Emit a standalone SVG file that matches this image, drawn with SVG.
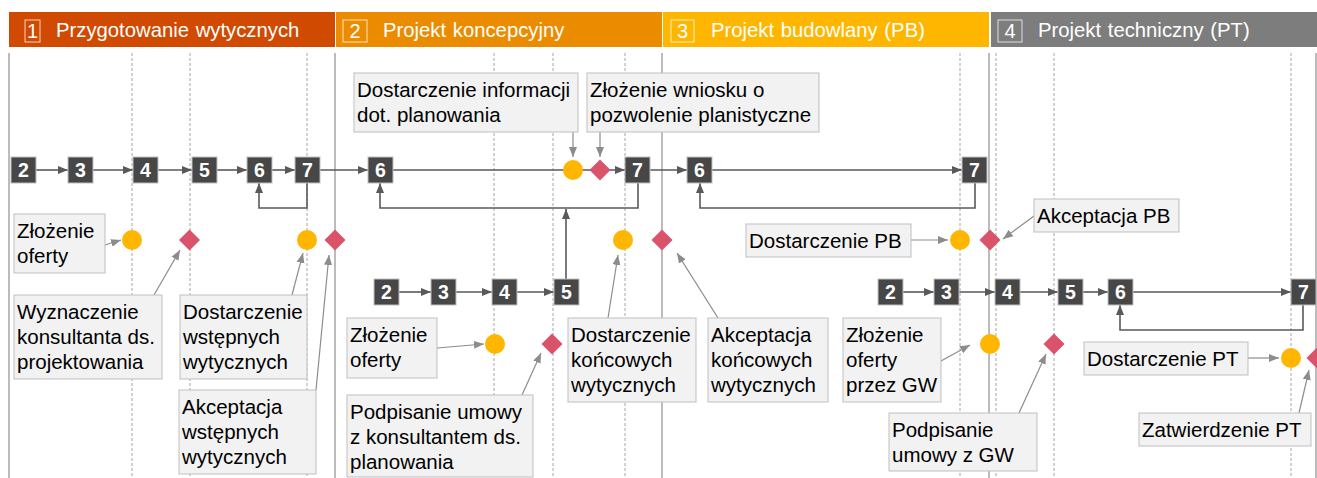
<svg xmlns="http://www.w3.org/2000/svg" width="1317" height="478" viewBox="0 0 1317 478">
  <style>
    .hdr { font-family: "Liberation Sans", Arial, sans-serif; font-size: 20.3px; fill: #ffffff; word-spacing: 1px; }
    .hnum { font-family: "Liberation Sans", Arial, sans-serif; font-size: 20px; fill: #ffffff; text-anchor: middle; }
    .hbox { fill: none; stroke: #ffffff; stroke-opacity: 0.75; stroke-width: 1; }
    .sep { stroke: #a6a6a6; stroke-width: 1.5; fill: none; }
    .dash { stroke: #a6a6a6; stroke-width: 1; stroke-dasharray: 3 2; fill: none; }
    .step rect { fill: #474747; stroke: #bfbfbf; stroke-width: 1; }
    .step text { font-family: "Liberation Sans", Arial, sans-serif; font-size: 19.5px; font-weight: bold; fill: #ffffff; text-anchor: middle; }
    .flow { stroke: #595959; stroke-width: 1.6; fill: none; }
    .call { stroke: #8c8c8c; stroke-width: 1.2; fill: none; }
    .lbl rect { fill: #f2f2f2; stroke: #bfbfbf; stroke-width: 1; }
    .lbl text { font-family: "Liberation Sans", Arial, sans-serif; font-size: 20.5px; fill: #000000; }
    .ms-c { fill: #ffb600; }
    .ms-d { fill: #db536a; }
  </style>
  <defs>
    <marker id="ah" markerUnits="userSpaceOnUse" markerWidth="10" markerHeight="10" viewBox="0 0 10 10" refX="10" refY="5" orient="auto">
      <path d="M0,1 L10,5 L0,9 Z" fill="#595959"/>
    </marker>
    <marker id="ahc" markerUnits="userSpaceOnUse" markerWidth="10" markerHeight="10" viewBox="0 0 10 10" refX="10" refY="5" orient="auto">
      <path d="M0,1 L10,5 L0,9 Z" fill="#8c8c8c"/>
    </marker>
  </defs>

  <rect width="1317" height="478" fill="#ffffff"/>

  <!-- phase header bands -->
  <g id="phase-1">
    <rect x="9" y="12" width="326" height="35" fill="#d04a02"/>
    <rect class="hbox" x="25" y="20" width="15" height="22"/>
    <text class="hnum" x="32.5" y="38">1</text>
    <text class="hdr" x="56" y="37">Przygotowanie wytycznych</text>
  </g>
  <g id="phase-2">
    <rect x="336" y="12" width="326" height="35" fill="#eb8c00"/>
    <rect class="hbox" x="343" y="20" width="24" height="22"/>
    <text class="hnum" x="355" y="38">2</text>
    <text class="hdr" x="383" y="37">Projekt koncepcyjny</text>
  </g>
  <g id="phase-3">
    <rect x="663" y="12" width="326" height="35" fill="#ffb600"/>
    <rect class="hbox" x="671" y="20" width="23" height="22"/>
    <text class="hnum" x="682.5" y="38">3</text>
    <text class="hdr" x="711" y="37">Projekt budowlany (PB)</text>
  </g>
  <g id="phase-4">
    <rect x="991" y="12" width="326" height="35" fill="#7d7d7d"/>
    <rect class="hbox" x="998" y="20" width="24" height="22"/>
    <text class="hnum" x="1010" y="38">4</text>
    <text class="hdr" x="1038" y="37">Projekt techniczny (PT)</text>
  </g>

  <!-- timeline grid -->
  <g id="grid">
    <line class="dash" x1="132" y1="53" x2="132" y2="478"/>
    <line class="dash" x1="190" y1="53" x2="190" y2="478"/>
    <line class="dash" x1="307" y1="53" x2="307" y2="478"/>
    <line class="dash" x1="494" y1="53" x2="494" y2="478"/>
    <line class="dash" x1="553" y1="53" x2="553" y2="478"/>
    <line class="dash" x1="625" y1="53" x2="625" y2="478"/>
    <line class="dash" x1="960" y1="53" x2="960" y2="478"/>
    <line class="dash" x1="996" y1="53" x2="996" y2="478"/>
    <line class="dash" x1="1054" y1="53" x2="1054" y2="478"/>
    <line class="dash" x1="1291" y1="53" x2="1291" y2="478"/>
    <line class="sep" x1="9" y1="53" x2="9" y2="478"/>
    <line class="sep" x1="335" y1="53" x2="335" y2="478"/>
    <line class="sep" x1="662" y1="53" x2="662" y2="478"/>
    <line class="sep" x1="989" y1="53" x2="989" y2="478"/>
    <line class="sep" x1="1316" y1="53" x2="1316" y2="478"/>
  </g>

  <!-- process flow connectors -->
  <g id="connectors">
    <line class="flow" x1="36" y1="170" x2="68" y2="170" marker-end="url(#ah)"/>
    <line class="flow" x1="93" y1="170" x2="133" y2="170" marker-end="url(#ah)"/>
    <line class="flow" x1="158" y1="170" x2="192" y2="170" marker-end="url(#ah)"/>
    <line class="flow" x1="217" y1="170" x2="247" y2="170" marker-end="url(#ah)"/>
    <line class="flow" x1="271" y1="170" x2="295" y2="170" marker-end="url(#ah)"/>
    <line class="flow" x1="319" y1="170" x2="368" y2="170" marker-end="url(#ah)"/>
    <line class="flow" x1="393" y1="170" x2="625" y2="170" marker-end="url(#ah)"/>
    <line class="flow" x1="650" y1="170" x2="687" y2="170" marker-end="url(#ah)"/>
    <line class="flow" x1="712" y1="170" x2="962" y2="170" marker-end="url(#ah)"/>
    <path class="flow" d="M307,183 V208 H259 V183" marker-end="url(#ah)"/>
    <path class="flow" d="M638,183 V208 H380 V183" marker-end="url(#ah)"/>
    <path class="flow" d="M975,183 V208 H700 V183" marker-end="url(#ah)"/>
    <path class="flow" d="M566,279 V209" marker-end="url(#ah)"/>
    <line class="flow" x1="399" y1="292" x2="431" y2="292" marker-end="url(#ah)"/>
    <line class="flow" x1="456" y1="292" x2="492" y2="292" marker-end="url(#ah)"/>
    <line class="flow" x1="517" y1="292" x2="554" y2="292" marker-end="url(#ah)"/>
    <line class="flow" x1="903" y1="292" x2="934" y2="292" marker-end="url(#ah)"/>
    <line class="flow" x1="959" y1="292" x2="995" y2="292" marker-end="url(#ah)"/>
    <line class="flow" x1="1020" y1="292" x2="1058" y2="292" marker-end="url(#ah)"/>
    <line class="flow" x1="1083" y1="292" x2="1108" y2="292" marker-end="url(#ah)"/>
    <line class="flow" x1="1133" y1="292" x2="1291" y2="292" marker-end="url(#ah)"/>
    <path class="flow" d="M1303,305 V330 H1120 V305" marker-end="url(#ah)"/>

    <!-- callout pointers -->
    <line class="call" x1="105" y1="245" x2="121" y2="240" marker-end="url(#ahc)"/>
    <line class="call" x1="154" y1="295" x2="180" y2="250" marker-end="url(#ahc)"/>
    <line class="call" x1="292" y1="295" x2="303" y2="253" marker-end="url(#ahc)"/>
    <line class="call" x1="316" y1="390" x2="329" y2="255" marker-end="url(#ahc)"/>
    <line class="call" x1="573" y1="132" x2="573" y2="157" marker-end="url(#ahc)"/>
    <line class="call" x1="600" y1="132" x2="600" y2="157" marker-end="url(#ahc)"/>
    <line class="call" x1="437" y1="348" x2="484" y2="344" marker-end="url(#ahc)"/>
    <line class="call" x1="522" y1="395" x2="541" y2="353" marker-end="url(#ahc)"/>
    <line class="call" x1="608" y1="318" x2="618" y2="255" marker-end="url(#ahc)"/>
    <line class="call" x1="718" y1="318" x2="677" y2="253" marker-end="url(#ahc)"/>
    <line class="call" x1="911" y1="240" x2="948" y2="240" marker-end="url(#ahc)"/>
    <line class="call" x1="1034" y1="216" x2="1003" y2="239" marker-end="url(#ahc)"/>
    <line class="call" x1="941" y1="361" x2="970" y2="345" marker-end="url(#ahc)"/>
    <line class="call" x1="1019" y1="413" x2="1046" y2="354" marker-end="url(#ahc)"/>
    <line class="call" x1="1248" y1="358" x2="1279" y2="358" marker-end="url(#ahc)"/>
    <line class="call" x1="1299" y1="413" x2="1309" y2="370" marker-end="url(#ahc)"/>
  </g>

  <!-- process steps -->
  <g id="s1-2" class="step"><rect x="11" y="157" width="25" height="26"/><text x="23.5" y="177">2</text></g>
  <g id="s1-3" class="step"><rect x="68" y="157" width="25" height="26"/><text x="80.5" y="177">3</text></g>
  <g id="s1-4" class="step"><rect x="133" y="157" width="25" height="26"/><text x="145.5" y="177">4</text></g>
  <g id="s1-5" class="step"><rect x="192" y="157" width="25" height="26"/><text x="204.5" y="177">5</text></g>
  <g id="s1-6" class="step"><rect x="247" y="157" width="25" height="26"/><text x="259.5" y="177">6</text></g>
  <g id="s1-7" class="step"><rect x="295" y="157" width="25" height="26"/><text x="307.5" y="177">7</text></g>
  <g id="s2-6" class="step"><rect x="368" y="157" width="25" height="26"/><text x="380.5" y="177">6</text></g>
  <g id="s2-7" class="step"><rect x="625" y="157" width="25" height="26"/><text x="637.5" y="177">7</text></g>
  <g id="s3-6" class="step"><rect x="687" y="157" width="25" height="26"/><text x="699.5" y="177">6</text></g>
  <g id="s3-7" class="step"><rect x="962" y="157" width="25" height="26"/><text x="974.5" y="177">7</text></g>
  <g id="s2b-2" class="step"><rect x="374" y="279" width="25" height="26"/><text x="386.5" y="299">2</text></g>
  <g id="s2b-3" class="step"><rect x="431" y="279" width="25" height="26"/><text x="443.5" y="299">3</text></g>
  <g id="s2b-4" class="step"><rect x="492" y="279" width="25" height="26"/><text x="504.5" y="299">4</text></g>
  <g id="s2b-5" class="step"><rect x="554" y="279" width="25" height="26"/><text x="566.5" y="299">5</text></g>
  <g id="s4-2" class="step"><rect x="878" y="279" width="25" height="26"/><text x="890.5" y="299">2</text></g>
  <g id="s4-3" class="step"><rect x="934" y="279" width="25" height="26"/><text x="946.5" y="299">3</text></g>
  <g id="s4-4" class="step"><rect x="995" y="279" width="25" height="26"/><text x="1007.5" y="299">4</text></g>
  <g id="s4-5" class="step"><rect x="1058" y="279" width="25" height="26"/><text x="1070.5" y="299">5</text></g>
  <g id="s4-6" class="step"><rect x="1108" y="279" width="25" height="26"/><text x="1120.5" y="299">6</text></g>
  <g id="s4-7" class="step"><rect x="1291" y="279" width="25" height="26"/><text x="1303.5" y="299">7</text></g>

  <!-- milestones -->
  <g id="m-top-c"><circle class="ms-c" cx="573" cy="170" r="10"/></g>
  <g id="m-top-d"><path class="ms-d" d="M600,159.5 L610.5,170 L600,180.5 L589.5,170 Z"/></g>
  <g id="m1-c"><circle class="ms-c" cx="132" cy="240" r="10"/></g>
  <g id="m1-d"><path class="ms-d" d="M189.5,229.5 L200,240 L189.5,250.5 L179,240 Z"/></g>
  <g id="m2-c"><circle class="ms-c" cx="307" cy="240" r="10"/></g>
  <g id="m2-d"><path class="ms-d" d="M335,229.5 L345.5,240 L335,250.5 L324.5,240 Z"/></g>
  <g id="m3-c"><circle class="ms-c" cx="623" cy="240" r="10"/></g>
  <g id="m3-d"><path class="ms-d" d="M662,229.5 L672.5,240 L662,250.5 L651.5,240 Z"/></g>
  <g id="m4-c"><circle class="ms-c" cx="960" cy="240" r="10"/></g>
  <g id="m4-d"><path class="ms-d" d="M990,229.5 L1000.5,240 L990,250.5 L979.5,240 Z"/></g>
  <g id="m5-c"><circle class="ms-c" cx="495" cy="344" r="10"/></g>
  <g id="m5-d"><path class="ms-d" d="M552,333.5 L562.5,344 L552,354.5 L541.5,344 Z"/></g>
  <g id="m6-c"><circle class="ms-c" cx="990" cy="344" r="10"/></g>
  <g id="m6-d"><path class="ms-d" d="M1054,333.5 L1064.5,344 L1054,354.5 L1043.5,344 Z"/></g>
  <g id="m7-c"><circle class="ms-c" cx="1291" cy="358" r="10"/></g>
  <g id="m7-d"><path class="ms-d" d="M1317,347.5 L1327.5,358 L1317,368.5 L1306.5,358 Z"/></g>

  <!-- callout labels -->
  <g id="l-oferta-1" class="lbl"><rect x="14" y="214" width="91" height="59"/>
    <text x="17" y="238">Złożenie</text><text x="17" y="263">oferty</text></g>
  <g id="l-wyznaczenie" class="lbl"><rect x="14" y="295" width="148" height="84"/>
    <text x="17" y="319">Wyznaczenie</text><text x="17" y="344">konsultanta ds.</text><text x="17" y="369">projektowania</text></g>
  <g id="l-dost-wst" class="lbl"><rect x="180" y="295" width="127" height="84"/>
    <text x="183" y="319">Dostarczenie</text><text x="183" y="344">wstępnych</text><text x="183" y="369">wytycznych</text></g>
  <g id="l-akc-wst" class="lbl"><rect x="179" y="390" width="137" height="84"/>
    <text x="182" y="414">Akceptacja</text><text x="182" y="439">wstępnych</text><text x="182" y="464">wytycznych</text></g>
  <g id="l-info" class="lbl"><rect x="354" y="73" width="224" height="59"/>
    <text x="357" y="97">Dostarczenie informacji</text><text x="357" y="122">dot. planowania</text></g>
  <g id="l-wniosek" class="lbl"><rect x="587" y="73" width="232" height="59"/>
    <text x="590" y="97">Złożenie wniosku o</text><text x="590" y="122">pozwolenie planistyczne</text></g>
  <g id="l-oferta-2" class="lbl"><rect x="347" y="318" width="90" height="60"/>
    <text x="350" y="342">Złożenie</text><text x="350" y="367">oferty</text></g>
  <g id="l-umowa-kons" class="lbl"><rect x="347" y="395" width="186" height="82"/>
    <text x="350" y="419">Podpisanie umowy</text><text x="350" y="444">z konsultantem ds.</text><text x="350" y="469">planowania</text></g>
  <g id="l-dost-konc" class="lbl"><rect x="568" y="318" width="128" height="84"/>
    <text x="571" y="342">Dostarczenie</text><text x="571" y="367">końcowych</text><text x="571" y="392">wytycznych</text></g>
  <g id="l-akc-konc" class="lbl"><rect x="708" y="318" width="120" height="84"/>
    <text x="711" y="342">Akceptacja</text><text x="711" y="367">końcowych</text><text x="711" y="392">wytycznych</text></g>
  <g id="l-dost-pb" class="lbl"><rect x="746" y="224" width="165" height="33"/>
    <text x="749" y="248">Dostarczenie PB</text></g>
  <g id="l-akc-pb" class="lbl"><rect x="1034" y="199" width="145" height="33"/>
    <text x="1037" y="223">Akceptacja PB</text></g>
  <g id="l-oferta-gw" class="lbl"><rect x="843" y="318" width="98" height="84"/>
    <text x="846" y="342">Złożenie</text><text x="846" y="367">oferty</text><text x="846" y="392">przez GW</text></g>
  <g id="l-umowa-gw" class="lbl"><rect x="889" y="413" width="148" height="58"/>
    <text x="892" y="437">Podpisanie</text><text x="892" y="462">umowy z GW</text></g>
  <g id="l-dost-pt" class="lbl"><rect x="1084" y="342" width="164" height="33"/>
    <text x="1087" y="366">Dostarczenie PT</text></g>
  <g id="l-zatw-pt" class="lbl"><rect x="1139" y="413" width="172" height="33"/>
    <text x="1142" y="437">Zatwierdzenie PT</text></g>
</svg>
